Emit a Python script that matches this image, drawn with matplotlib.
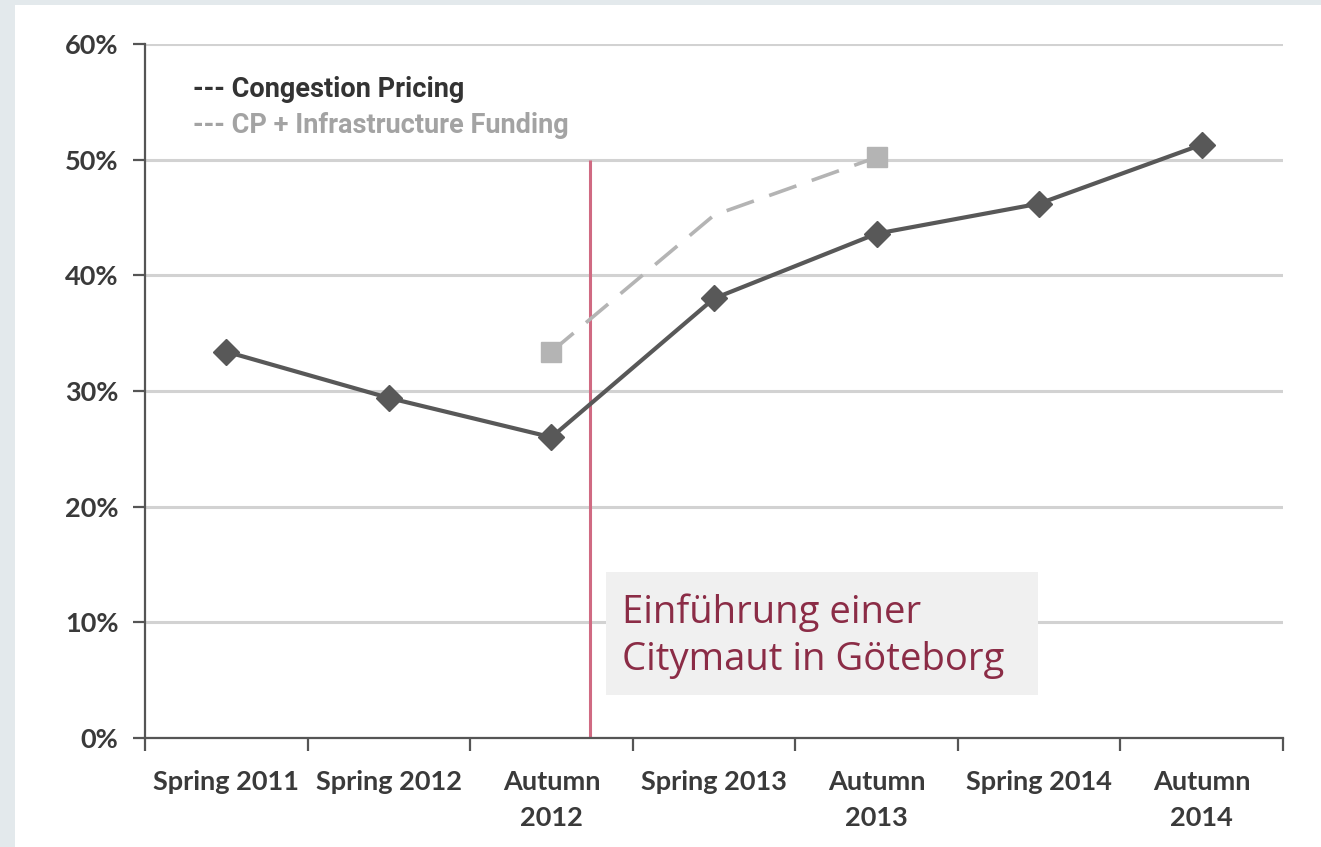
import matplotlib.pyplot as plt
from matplotlib.patches import Rectangle

# data
periods = ["Spring 2011", "Spring 2012", "Autumn\n2012", "Spring 2013",
           "Autumn\n2013", "Spring 2014", "Autumn\n2014"]
congestion = [33.4, 29.4, 26.0, 38.0, 43.6, 46.2, 51.3]
cp_idx = [2, 3, 4]
cp_funding = [33.4, 45.2, 50.2]
cp_marker_idx = [0, 2]
intro_pos = 2.24
ytick_vals = [0, 10, 20, 30, 40, 50, 60]
ytick_labels = ["0%", "10%", "20%", "30%", "40%", "50%", "60%"]

fig = plt.figure(figsize=(13.21, 8.47), dpi=100)
fig.patch.set_facecolor("#e3e9ec")
# white card behind the chart
bg = fig.add_axes([15 / 1321, 0, 1 - 15 / 1321, 1 - 5 / 847], zorder=-1)
bg.set_axis_off()
bg.add_patch(Rectangle((0, 0), 1, 1, transform=bg.transAxes,
                       facecolor="white", edgecolor="none"))

ax = fig.add_axes([145 / 1321, 109 / 847, 1138 / 1321, 694 / 847])
ax.set_facecolor("none")

x = list(range(len(periods)))
ax.plot(cp_idx, cp_funding, color="#b4b4b4", lw=2.6, ls=(0, (8, 4.5)),
        marker="s", ms=15, markevery=cp_marker_idx, zorder=3)
ax.plot(x, congestion, color="#585858", lw=3, marker="D", ms=13, zorder=4)

# introduction of congestion charge
ax.vlines(intro_pos, 0, 50, color="#d06a82", lw=2.2, zorder=2)

ax.set_xlim(-0.5, len(periods) - 0.5)
ax.set_ylim(0, 60)
ax.set_yticks(ytick_vals)
ax.set_yticklabels(ytick_labels)
ax.set_xticks(x)
ax.set_xticklabels(periods, linespacing=1.6)
ax.set_xticks([i - 0.5 for i in range(len(periods) + 1)], minor=True)

ax.grid(axis="y", color="#d2d2d2", lw=2.2)
ax.set_axisbelow(True)
for s in ["top", "right"]:
    ax.spines[s].set_visible(False)
ax.spines["left"].set_color("#555555")
ax.spines["bottom"].set_color("#555555")
ax.spines["left"].set_linewidth(1.6)
ax.spines["bottom"].set_linewidth(1.6)

ax.tick_params(axis="x", which="major", length=0, pad=23,
               labelsize=19.5, labelcolor="#3a3a3a")
ax.tick_params(axis="x", which="minor", length=9, width=1.6,
               color="#555555", direction="out")
ax.tick_params(axis="y", length=9, width=1.6, color="#555555",
               labelsize=19.5, labelcolor="#3a3a3a", pad=10)
for lab in ax.get_xticklabels() + ax.get_yticklabels():
    lab.set_family("Lato")
    lab.set_fontweight("bold")

# hand-written legend
ax.text(0.042, 0.934, "--- Congestion Pricing", transform=ax.transAxes,
        fontsize=19.5, fontweight="bold", color="#333333",
        family="Roboto", va="center")
ax.text(0.042, 0.883, "--- CP + Infrastructure Funding", transform=ax.transAxes,
        fontsize=19.5, fontweight="bold", color="#a3a3a3",
        family="Roboto", va="center")

# annotation box
ax.add_patch(Rectangle((606 / 1321, 1 - 695 / 847), 432 / 1321, 123 / 847,
                       transform=fig.transFigure, facecolor="#f0f0f0",
                       edgecolor="none", zorder=5, clip_on=False))
ax.text(622 / 1321, 1 - 636 / 847, "Einführung einer\nCitymaut in Göteborg",
        transform=fig.transFigure, fontsize=27.5, color="#8b2c46",
        family="Open Sans", va="center", linespacing=1.3, zorder=6)

fig.savefig("out.png", dpi=100, facecolor=fig.get_facecolor())
